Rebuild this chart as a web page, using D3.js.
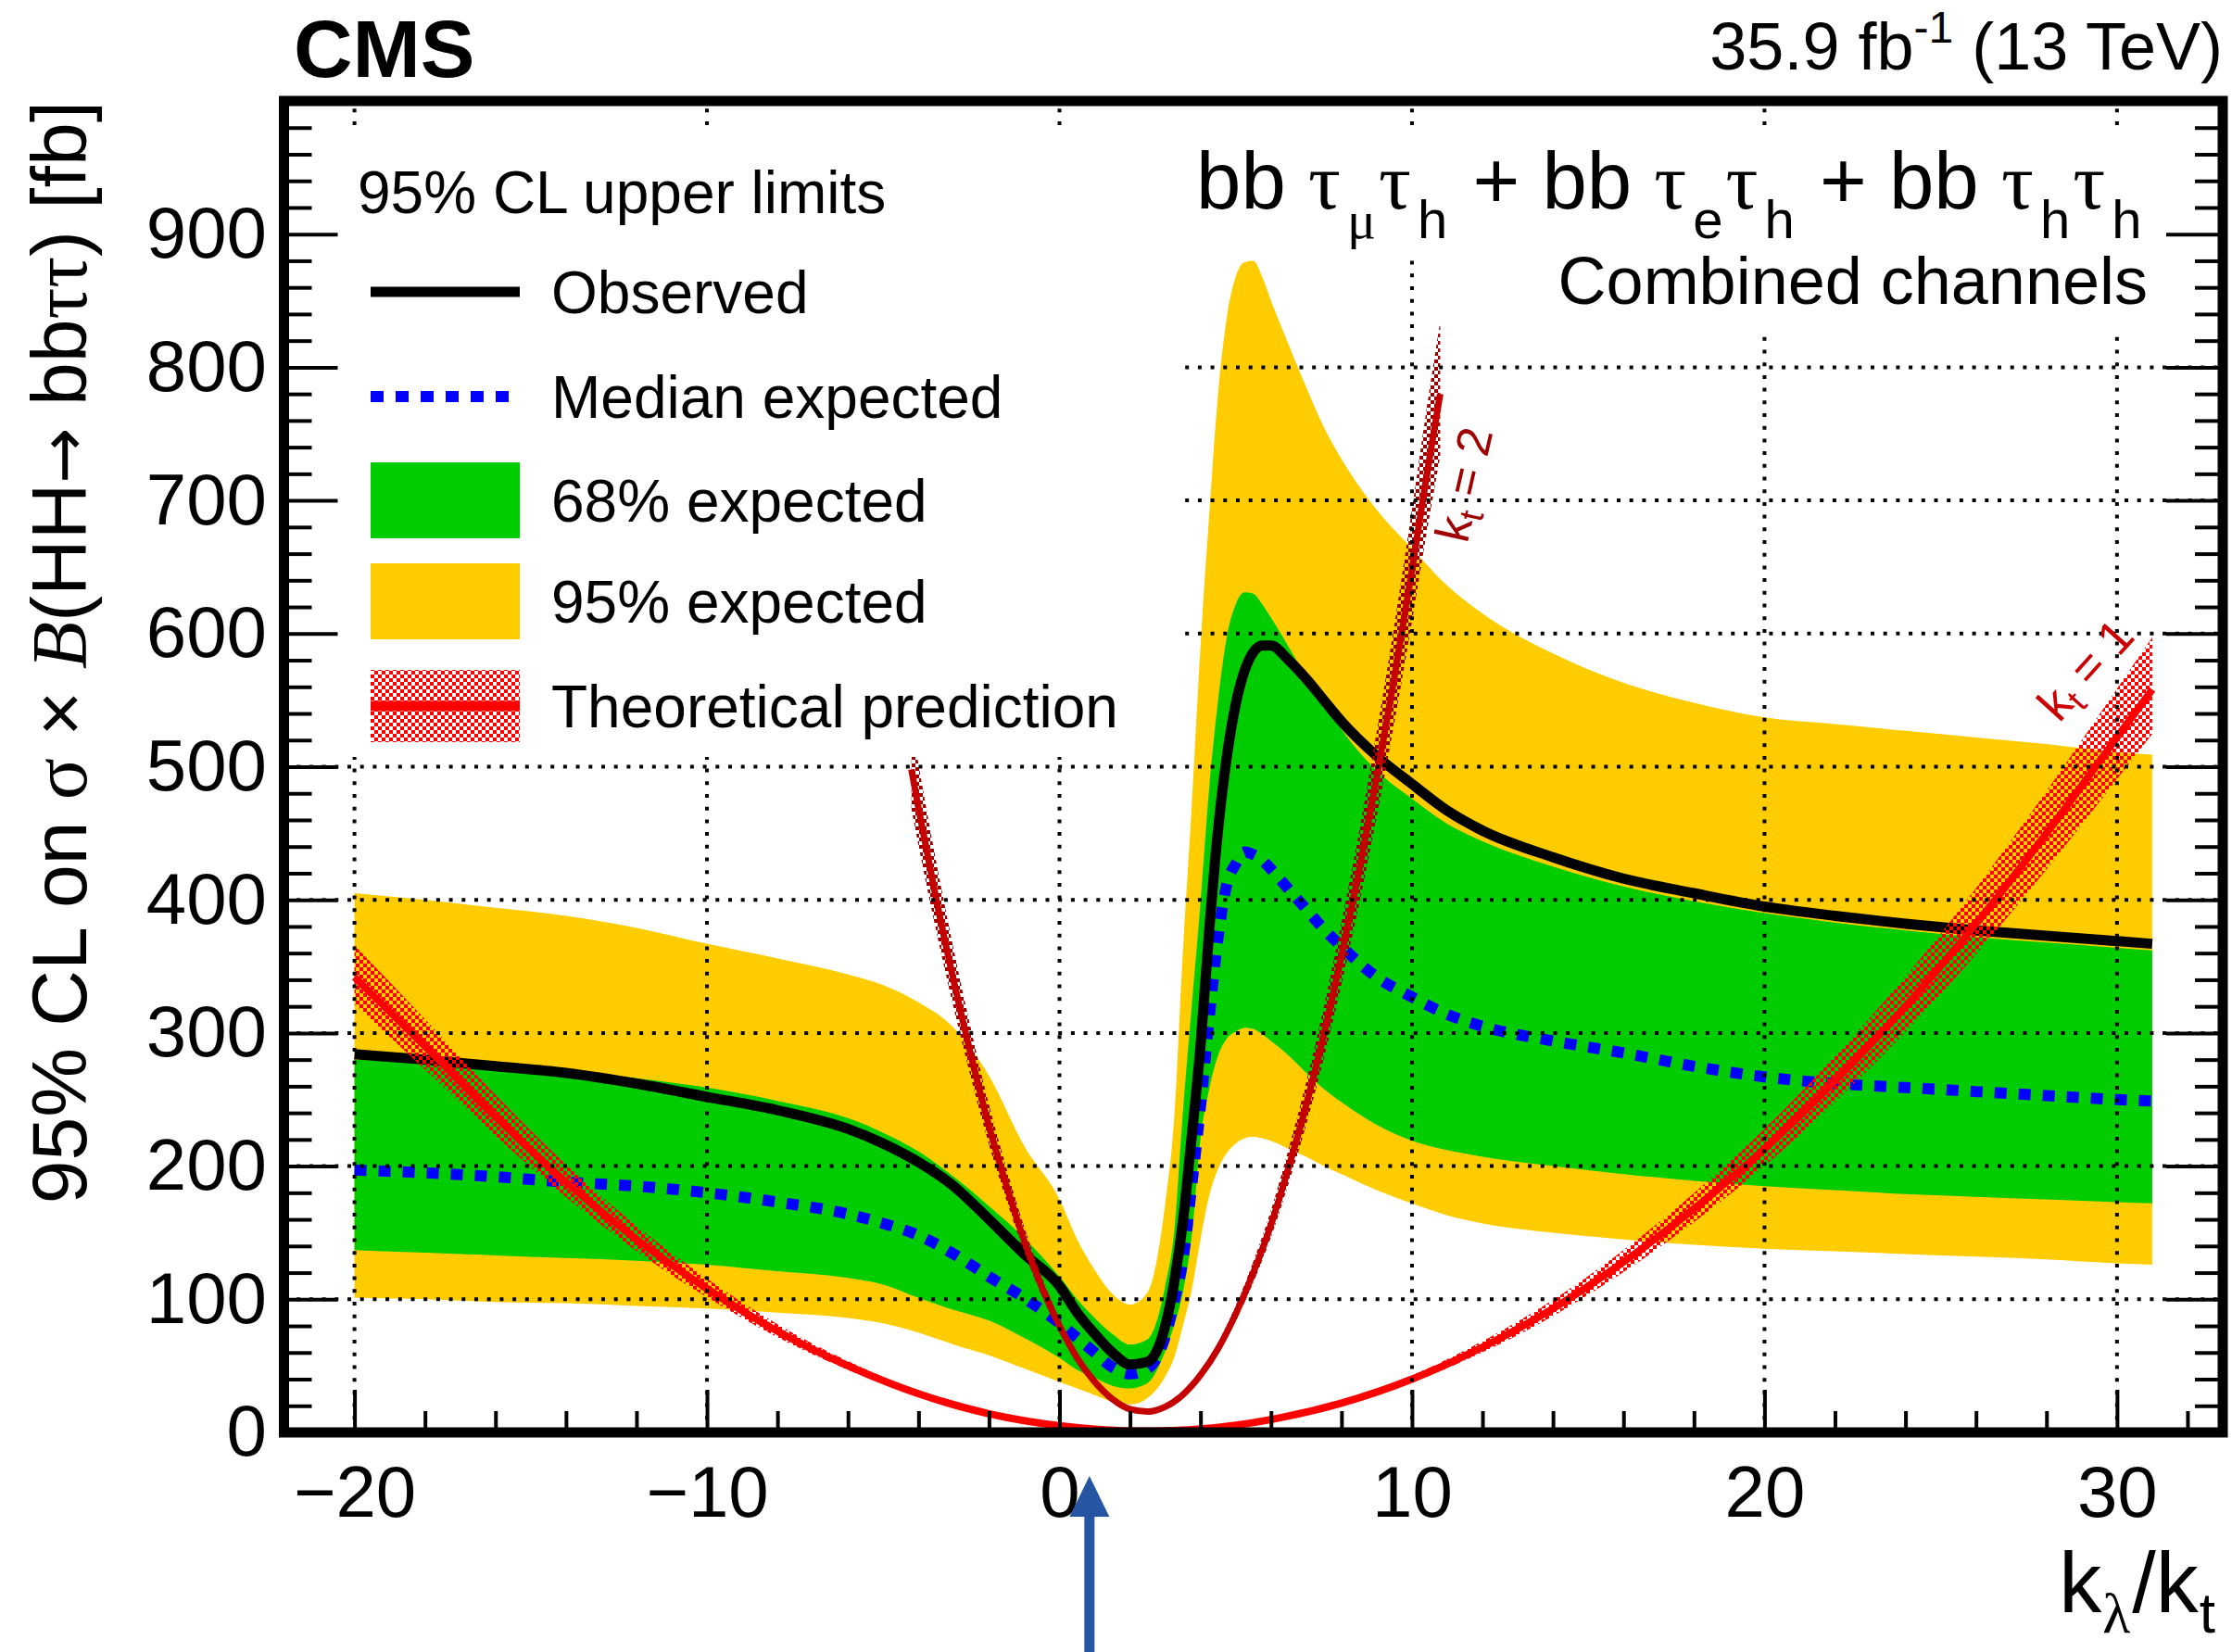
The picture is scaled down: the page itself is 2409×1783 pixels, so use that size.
<!DOCTYPE html>
<html>
<head>
<meta charset="utf-8">
<script src="https://cdn.jsdelivr.net/npm/d3@7"></script>
<style>
  html, body { margin: 0; padding: 0; background: #fff; overflow: hidden; }
  svg { display: block; }
  text { font-family: "Liberation Sans", Arial, Helvetica, sans-serif; white-space: pre; }
</style>
</head>
<body>
<svg id="chart" width="2409" height="1783"></svg>
<script>
// ---------------------------------------------------------------------------
// HH -> bb tau tau : 95% CL upper limits versus k_lambda / k_t
// ---------------------------------------------------------------------------

// scan points (k_lambda / k_t) shared by the limit curves and bands
const kappaX = [-20, -18, -16, -14, -12, -10, -8, -6, -5, -4, -3, -2, -1, 0, 0.5, 1, 1.5, 2, 2.5, 3,
                3.25, 3.5, 3.75, 4, 4.25, 4.5, 4.75, 5, 5.25, 5.5, 5.75, 6, 6.5, 7, 7.5, 8, 9, 10, 11, 12,
                14, 16, 18, 20, 22, 24, 26, 28, 30, 31];

// observed limit [fb]
const observed = [284, 280, 275, 270, 262, 252, 242, 228, 217, 203, 185, 160, 134, 110, 90, 74, 60, 51, 53, 80,
                  112, 158, 222, 290, 378, 453, 508, 547, 572, 586, 591, 591, 580, 566, 550, 534, 508, 487, 467, 452,
                  432, 416, 405, 395, 388, 382, 377, 373, 369, 367];

// median expected limit [fb]
const expectedMedian = [197, 195, 192, 188, 185, 180, 173, 164, 157, 148, 134, 117, 101, 82, 71, 60, 49, 44, 48, 72,
                        98, 130, 185, 245, 312, 372, 412, 427, 436, 434, 430, 423, 408, 393, 378, 365, 342, 327, 314, 305,
                        294, 285, 275, 267, 262, 259, 256, 253, 250, 249];

// 68% expected band
const band68Lo = [137, 135, 133, 131, 129, 126, 121, 116, 111, 101, 92, 84, 71, 56, 47, 41, 35, 33, 37, 61,
                  80, 105, 147, 220, 258, 283, 296, 301, 304, 303, 299, 294, 283, 270, 258, 248, 231, 219, 212, 207,
                  200, 194, 189, 185, 182, 179, 177, 175, 173, 172];
const band68Hi = [280, 278, 275, 272, 266, 259, 249, 236, 225, 211, 192, 170, 146, 117, 100, 86, 74, 66, 70, 110,
                  150, 240, 320, 398, 485, 550, 598, 622, 631, 630, 622, 612, 590, 568, 548, 528, 497, 476, 457, 444,
                  425, 410, 399, 390, 383, 377, 372, 368, 364, 362];

// 95% expected band
const band95Lo = [101, 100, 98, 97, 95, 93, 90, 86, 82, 75, 66, 58, 48, 38, 33, 28, 23, 21, 26, 42,
                  56, 80, 107, 145, 178, 198, 210, 217, 221, 222, 221, 219, 213, 207, 200, 194, 182, 172, 163, 157,
                  150, 145, 141, 138, 136, 134, 132, 130, 127, 126];
const band95Hi = [405, 400, 394, 388, 379, 367, 356, 344, 336, 323, 304, 268, 215, 175, 145, 122, 104, 96, 105, 172,
                  235, 360, 470, 590, 690, 780, 838, 868, 879, 880, 868, 850, 817, 785, 755, 731, 693, 664, 636, 615,
                  585, 563, 548, 537, 532, 527, 522, 517, 511, 509];

// theoretical cross section x branching fraction, k_t = 1 [fb]
const theoryKt1X = [-20, -18, -16, -14, -12, -10, -8, -6, -4, -2, 0, 1, 2, 2.5, 3, 4, 6, 8, 10, 12,
                    14, 16, 18, 20, 22, 24, 26, 28, 30, 31];
const theoryKt1 = [342, 290, 237, 188, 145, 108, 76, 50, 29, 14, 5, 2.4, 1.1, 1.0, 1.2, 2.6, 9.7, 22, 40, 64,
                   93, 128, 168, 213, 264, 320, 382, 450, 522, 558];

// theoretical cross section x branching fraction, k_t = 2 [fb]
const theoryKt2X = [-4.2, -4, -3.5, -3, -2.5, -2, -1.5, -1, -0.5, 0, 0.5, 1, 1.5, 2, 2.5, 3,
                    3.5, 4, 4.5, 5, 5.5, 6, 6.5, 7, 7.5, 8, 8.5, 9, 9.5, 10, 10.4, 10.8];
const theoryKt2 = [498, 469, 401, 339, 282, 230, 185, 144, 109, 80, 56, 38, 25, 17.4, 15.6, 19.2,
                   28.3, 43, 63, 89, 120, 156, 199, 246, 299, 358, 422, 492, 567, 648, 716, 780];

// relative theory uncertainty (up / down)
const theoryRelUp = 0.07;
const theoryRelDn = 0.06;

// axis ticks
const xMajorTicks = [-20, -10, 0, 10, 20, 30];
const yMajorTicks = [0, 100, 200, 300, 400, 500, 600, 700, 800, 900];

// legend entries
const legendHeader = "95% CL upper limits";
const legendLabels = ["Observed", "Median expected", "68% expected", "95% expected", "Theoretical prediction"];

// SM point marker on the k_lambda / k_t axis
const smArrowKappa = 0.85;

// ---------------------------------------------------------------------------
const svg = d3.select("#chart");
const FONT = "'Liberation Sans', Arial, Helvetica, sans-serif";
const SERIF = "'Liberation Serif', 'DejaVu Serif', serif";
const SYMB = "'DejaVu Sans', sans-serif";

const x = d3.scaleLinear().domain([-22, 33]).range([306.5, 2399]);
const y = d3.scaleLinear().domain([0, 1000]).range([1546, 109]);

const defs = svg.append("defs");
defs.append("clipPath").attr("id", "plotClip").append("rect")
  .attr("x", x(-22)).attr("y", y(1000))
  .attr("width", x(33) - x(-22)).attr("height", y(0) - y(1000));

function checker(id, color) {
  const p = defs.append("pattern").attr("id", id)
    .attr("patternUnits", "userSpaceOnUse").attr("width", 8).attr("height", 8);
  p.append("rect").attr("x", 0).attr("y", 0).attr("width", 4).attr("height", 4).attr("fill", color);
  p.append("rect").attr("x", 4).attr("y", 4).attr("width", 4).attr("height", 4).attr("fill", color);
}
checker("hatchKt1", "#ff0000");
checker("hatchKt2", "#990000");

const limits = kappaX.map((k, i) => ({
  k, obs: observed[i], exp: expectedMedian[i],
  lo68: band68Lo[i], hi68: band68Hi[i], lo95: band95Lo[i], hi95: band95Hi[i]
}));
const kt1 = theoryKt1X.map((k, i) => ({ k, v: theoryKt1[i] }));
const kt2 = theoryKt2X.map((k, i) => ({ k, v: theoryKt2[i] }));

const curve = d3.curveMonotoneX;
const plot = svg.append("g").attr("clip-path", "url(#plotClip)");

// expected bands
plot.append("path").datum(limits).attr("fill", "#ffcc00")
  .attr("d", d3.area().curve(curve).x(d => x(d.k)).y0(d => y(d.lo95)).y1(d => y(d.hi95)));
plot.append("path").datum(limits).attr("fill", "#00cc00")
  .attr("d", d3.area().curve(curve).x(d => x(d.k)).y0(d => y(d.lo68)).y1(d => y(d.hi68)));

// median expected and observed
plot.append("path").datum(limits).attr("fill", "none").attr("stroke", "#0000ff")
  .attr("stroke-width", 12).attr("stroke-dasharray", "13 13")
  .attr("d", d3.line().curve(curve).x(d => x(d.k)).y(d => y(d.exp)));
plot.append("path").datum(limits).attr("fill", "none").attr("stroke", "#000")
  .attr("stroke-width", 11).attr("stroke-linejoin", "round")
  .attr("d", d3.line().curve(curve).x(d => x(d.k)).y(d => y(d.obs)));

// theory predictions
function theory(data, hatch, color, width) {
  plot.append("path").datum(data).attr("fill", `url(#${hatch})`)
    .attr("d", d3.area().curve(curve).x(d => x(d.k))
      .y0(d => y(d.v * (1 - theoryRelDn))).y1(d => y(d.v * (1 + theoryRelUp))));
  plot.append("path").datum(data).attr("fill", "none").attr("stroke", color)
    .attr("stroke-width", width).attr("stroke-linejoin", "round")
    .attr("d", d3.line().curve(curve).x(d => x(d.k)).y(d => y(d.v)));
}
theory(kt1, "hatchKt1", "#ff0000", 8);
theory(kt2, "hatchKt2", "#c40000", 7);

// dotted grid
const grid = svg.append("g").attr("stroke", "#000").attr("stroke-width", 4)
  .attr("stroke-dasharray", "4 9.7").attr("fill", "none");
xMajorTicks.forEach(t => grid.append("line")
  .attr("x1", x(t)).attr("x2", x(t)).attr("y1", y(0)).attr("y2", y(1000)));
yMajorTicks.filter(t => t > 0).forEach(t => grid.append("line")
  .attr("x1", x(-22)).attr("x2", x(33)).attr("y1", y(t)).attr("y2", y(t)));

// curve labels
function ktLabel(kx, ky, angle, value, color) {
  const t = svg.append("text")
    .attr("transform", `translate(${x(kx)},${y(ky)}) rotate(${angle})`)
    .attr("text-anchor", "middle").attr("dy", "0.35em")
    .attr("font-size", 52).attr("fill", color);
  t.append("tspan").text("k");
  t.append("tspan").attr("font-size", 37).attr("dy", 10).text("t");
  t.append("tspan").attr("dy", -10).text(" = " + value);
}
ktLabel(11.47, 712, -77, "2", "#a00000");
ktLabel(29.1, 573, -48, "1", "#cc0000");

// white boxes behind legend and channel text
svg.append("rect").attr("x", 312).attr("y", 141).attr("width", 1275 - 312).attr("height", 817 - 141).attr("fill", "#fff");
svg.append("rect").attr("x", 1275).attr("y", 142).attr("width", 2394 - 1275).attr("height", 275 - 142).attr("fill", "#fff");
svg.append("rect").attr("x", 1600).attr("y", 275).attr("width", 2394 - 1600).attr("height", 358 - 275).attr("fill", "#fff");

// legend
const leg = svg.append("g");
leg.append("text").attr("x", 386).attr("y", 230).attr("font-size", 64).text(legendHeader);
const rowY = [315, 428, 540, 649, 762];
const symX0 = 400, symX1 = 561;
leg.append("line").attr("x1", symX0).attr("x2", symX1).attr("y1", rowY[0]).attr("y2", rowY[0])
  .attr("stroke", "#000").attr("stroke-width", 11);
leg.append("line").attr("x1", symX0).attr("x2", symX1).attr("y1", rowY[1]).attr("y2", rowY[1])
  .attr("stroke", "#0000ff").attr("stroke-width", 12).attr("stroke-dasharray", "14 13");
leg.append("rect").attr("x", symX0).attr("y", rowY[2] - 41).attr("width", symX1 - symX0).attr("height", 82).attr("fill", "#00cc00");
leg.append("rect").attr("x", symX0).attr("y", rowY[3] - 41).attr("width", symX1 - symX0).attr("height", 82).attr("fill", "#ffcc00");
leg.append("rect").attr("x", symX0).attr("y", rowY[4] - 39).attr("width", symX1 - symX0).attr("height", 78).attr("fill", "url(#hatchKt1)");
leg.append("line").attr("x1", symX0).attr("x2", symX1).attr("y1", rowY[4]).attr("y2", rowY[4])
  .attr("stroke", "#ff0000").attr("stroke-width", 11);
legendLabels.forEach((lab, i) => leg.append("text")
  .attr("x", 595).attr("y", rowY[i] + 23).attr("font-size", 64).text(lab));

// rich text helper: sub/superscripts and font switches inside one text element
function richText(parent, segs, attrs) {
  const t = parent.append("text");
  Object.entries(attrs).forEach(([k, v]) => t.attr(k, v));
  let shift = 0;
  segs.forEach(s => {
    const ts = t.append("tspan").text(s.t);
    const target = s.sub ? s.sub : (s.sup ? -s.sup : 0);
    if (target !== shift) { ts.attr("dy", target - shift); shift = target; }
    if (s.size) ts.attr("font-size", s.size);
    if (s.family) ts.attr("font-family", s.family);
    if (s.italic) ts.attr("font-style", "italic");
    if (s.dx) ts.attr("dx", s.dx);
  });
  return t;
}

// channel text
const subS = 58, subD = 32;
richText(svg, [
  { t: "bb " }, { t: "τ", family: SERIF }, { t: "μ", family: SERIF, sub: subD, size: subS, dx: 7 },
  { t: "τ", family: SERIF, dx: 3 }, { t: "h", sub: subD, size: subS, dx: 7 },
  { t: " + bb ", dx: 3 }, { t: "τ", family: SERIF }, { t: "e", sub: subD, size: subS, dx: 7 },
  { t: "τ", family: SERIF, dx: 3 }, { t: "h", sub: subD, size: subS, dx: 7 },
  { t: " + bb ", dx: 3 }, { t: "τ", family: SERIF }, { t: "h", sub: subD, size: subS, dx: 7 },
  { t: "τ", family: SERIF, dx: 3 }, { t: "h", sub: subD, size: subS, dx: 7 }
], { x: 1291, y: 225, "font-size": 87 });
svg.append("text").attr("x", 2318).attr("y", 328).attr("text-anchor", "end")
  .attr("font-size", 72).text("Combined channels");

// axes
function styleAxis(g) {
  g.select(".domain").remove();
  g.attr("font-family", FONT).attr("font-size", 78);
  g.selectAll(".tick line").attr("stroke", "#000").attr("stroke-width", 4);
  g.selectAll(".tick text").attr("fill", "#000");
}
const xMinor = d3.range(-22, 34, 2).filter(v => !xMajorTicks.includes(v));
const yMinor = d3.range(20, 1000, 20).filter(v => v % 100 !== 0);

svg.append("g").attr("transform", `translate(0,${y(0)})`)
  .call(d3.axisBottom(x).tickValues(xMajorTicks).tickSize(-46).tickPadding(36).tickFormat(d3.format("d")))
  .call(styleAxis);
svg.append("g").attr("transform", `translate(0,${y(0)})`)
  .call(d3.axisBottom(x).tickValues(xMinor).tickSize(-23).tickFormat(""))
  .call(styleAxis);
svg.append("g").attr("transform", `translate(${x(-22)},0)`)
  .call(d3.axisLeft(y).tickValues(yMajorTicks).tickSize(-58).tickPadding(18.5).tickFormat(d3.format("d")))
  .call(styleAxis);
svg.append("g").attr("transform", `translate(${x(-22)},0)`)
  .call(d3.axisLeft(y).tickValues(yMinor).tickSize(-30).tickFormat(""))
  .call(styleAxis);
svg.append("g").attr("transform", `translate(${x(33)},0)`)
  .call(d3.axisRight(y).tickValues(yMajorTicks.concat([1000])).tickSize(-61).tickFormat(""))
  .call(styleAxis);
svg.append("g").attr("transform", `translate(${x(33)},0)`)
  .call(d3.axisRight(y).tickValues(yMinor).tickSize(-30).tickFormat(""))
  .call(styleAxis);

// frame
svg.append("rect").attr("x", x(-22)).attr("y", y(1000))
  .attr("width", x(33) - x(-22)).attr("height", y(0) - y(1000))
  .attr("fill", "none").attr("stroke", "#000").attr("stroke-width", 11);

// axis titles
richText(svg, [
  { t: "k" }, { t: "λ", family: SERIF, sub: 22, size: 62, dx: 1 },
  { t: "/k", dx: 2 }, { t: "t", sub: 22, size: 62, dx: 1 }
], { x: 2391, y: 1740, "font-size": 92, "text-anchor": "end" });

richText(svg, [
  { t: "95% CL on " }, { t: "σ", family: SERIF }, { t: " × " },
  { t: "B", family: SERIF, italic: true }, { t: "(HH" },
  { t: "→", family: SYMB, size: 72 }, { t: " bb" }, { t: "ττ", family: SERIF }, { t: ") [fb]" }
], { transform: "translate(93,109) rotate(-90)", "font-size": 84, "text-anchor": "end" });

// header texts
svg.append("text").attr("x", 317).attr("y", 83).attr("font-size", 88)
  .attr("font-weight", "bold").text("CMS");
richText(svg, [
  { t: "35.9 fb" }, { t: "-1", sup: 29, size: 48 }, { t: " (13 TeV)" }
], { x: 2399, y: 75, "font-size": 72, "text-anchor": "end" });

// SM marker arrow
const ax = x(smArrowKappa);
svg.append("path")
  .attr("d", `M${ax},1593 L${ax - 21.5},1637 L${ax + 21.5},1637 Z`)
  .attr("fill", "#2656a3");
svg.append("rect").attr("x", ax - 5.5).attr("y", 1636).attr("width", 11).attr("height", 1783 - 1636)
  .attr("fill", "#2656a3");
</script>
</body>
</html>
